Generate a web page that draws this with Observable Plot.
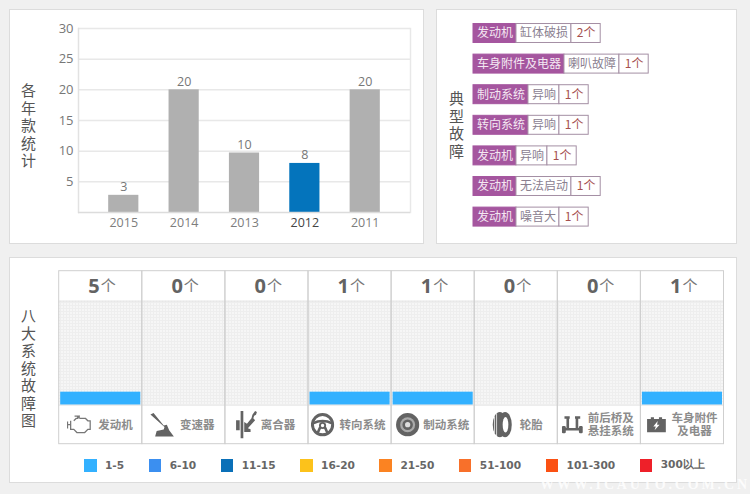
<!DOCTYPE html>
<html><head><meta charset="utf-8">
<script src="https://cdn.jsdelivr.net/npm/d3@7"></script>
<script src="https://cdn.jsdelivr.net/npm/@observablehq/plot@0.6"></script>
<style>
html,body{margin:0;padding:0;background:#f0f0f0;width:750px;height:494px;overflow:hidden;font-family:"Noto Sans CJK SC",sans-serif}
.panel{position:absolute;background:#fff;border:1px solid #dcdcdc;box-sizing:border-box}
.chart{position:absolute}
.chart svg{display:block;background:transparent}
.side{position:absolute;font-size:15px;line-height:16px;width:16px;color:#555;writing-mode:vertical-rl;text-orientation:upright;letter-spacing:2.5px}
#legend{position:absolute;left:84px;top:458px;display:flex;gap:24.5px;align-items:center;font:bold 10.6px "DejaVu Sans",sans-serif;color:#666}
#legend span.i{display:flex;align-items:center;gap:8.5px}
#legend i{display:block;width:12.5px;height:13px}
#mark{position:absolute;left:540px;top:477px;font:bold 14px "Liberation Serif",serif;letter-spacing:2.85px;color:#fff;opacity:.8;white-space:nowrap}
</style></head><body>
<div class="panel" style="left:9px;top:9px;width:415px;height:235px"></div>
<div class="panel" style="left:436px;top:9px;width:301px;height:235px"></div>
<div class="panel" style="left:9px;top:257px;width:728px;height:226px"></div>
<div class="side" style="left:20px;top:83px">各年款统计</div>
<div class="side" style="left:448px;top:91px">典型故障</div>
<div class="side" style="left:20px;top:308px">八大系统故障图</div>
<div class="chart" id="c1" style="left:9px;top:9px"></div>
<div class="chart" id="c2" style="left:436px;top:9px"></div>
<div class="chart" id="c3" style="left:9px;top:257px"></div>
<div id="legend"></div>
<div id="mark">WWW.ICAUTO.COM.CN</div>
<script>
// ---- yearly chart
const years = ["2015","2014","2013","2012","2011"];
const yearBars = [2.8,20,9.7,8,20];
const yearLabels = [3,20,10,8,20];
const highlightYear = "2012";
// ---- typical faults
const faultSystems = ["发动机","车身附件及电器","制动系统","转向系统","发动机","发动机","发动机"];
const faultNames = ["缸体破损","喇叭故障","异响","异响","异响","无法启动","噪音大"];
const faultCounts = [2,1,1,1,1,1,1];
// ---- eight systems
const systems = ["发动机","变速器","离合器","转向系统","制动系统","轮胎","前后桥及\n悬挂系统","车身附件\n及电器"];
const systemCounts = [5,0,0,1,1,0,0,1];
const binLabels = ["1-5","6-10","11-15","16-20","21-50","51-100","101-300","300以上"];
const binUpper = [5,10,15,20,50,100,300,Infinity];
const binColors = ["#33b1ff","#3b8ff0","#0a70b8","#fcc21b","#fb8322","#f8702a","#fb5113","#ee2029"];

const CJK = '"Noto Sans CJK SC",sans-serif', LATIN = '"Open Sans",sans-serif';

// ---- chart 1
const yearRows = years.map((y,i)=>({year:y,bar:yearBars[i],label:yearLabels[i]}));
document.getElementById("c1").append(Plot.plot({
  width:415,height:235,marginLeft:69,marginRight:14,marginTop:19,marginBottom:32,
  style:{background:"transparent",fontFamily:LATIN,fontSize:"12.5px"},
  x:{domain:years,paddingInner:.5,paddingOuter:.5,round:false,label:null},
  y:{domain:[0,30],label:null},
  marks:[
    Plot.ruleY([5,10,15,20,25,30],{stroke:"#e8e8e8",strokeWidth:1.5}),
    Plot.frame({anchor:"left",stroke:"#e2e2e2",strokeWidth:1.5}),
    Plot.frame({anchor:"right",stroke:"#e8e8e8",strokeWidth:1.5}),
    Plot.barY(yearRows,{x:"year",y:"bar",fill:d=>d.year===highlightYear?"#0474bc":"#b0b0b0"}),
    Plot.ruleY([0],{stroke:"#dcdcdc",strokeWidth:1.5}),
    Plot.text(yearRows,{x:"year",y:"bar",text:"label",dy:-8,fill:"#777",fontSize:12.5}),
    Plot.axisY({ticks:[5,10,15,20,25,30],tickSize:0,tickPadding:5,color:"#777",fontSize:13,label:null}),
    Plot.axisX({tickSize:0,tickPadding:6,fill:d=>d===highlightYear?"#444":"#7d7d7d",fontSize:12.5,label:null})
  ]
}));

// ---- chart 2 : one row of three joined boxes per fault; x is measured in character widths
const boxPad = .58, countWidth = 2.44;
const faultBoxes = faultSystems.flatMap((s,i)=>{
  const a = s.length+boxPad, b = a+faultNames[i].length+boxPad, c = b+countWidth;
  return [
    {row:i,part:"sys",x1:0,x2:a,text:s},
    {row:i,part:"name",x1:a,x2:b,text:faultNames[i]},
    {row:i,part:"count",x1:b,x2:c,text:faultCounts[i]+"个"}
  ];
});
document.getElementById("c2").append(Plot.plot({
  width:301,height:235,marginLeft:37,marginRight:24,marginTop:8.7,marginBottom:12.1,
  style:{background:"transparent",fontFamily:CJK},
  x:{domain:[0,20],axis:null},
  y:{domain:faultSystems.map((_,i)=>i),paddingInner:.38,paddingOuter:.19,round:false,axis:null},
  marks:[
    Plot.barX(faultBoxes,{x1:"x1",x2:"x2",y:"row",fill:d=>d.part==="sys"?"#a5569f":"#fff",stroke:d=>d.part==="sys"?"#a5569f":"#a48fa4",strokeWidth:1}),
    Plot.text(faultBoxes,{x:d=>(d.x1+d.x2)/2,y:"row",text:"text",fontSize:12,
      fill:d=>d.part==="sys"?"#f4e8f2":d.part==="name"?"#8a8090":"#a5504f"})
  ]
}));

// ---- chart 3
const svgUri = s=>"data:image/svg+xml;utf8,"+encodeURIComponent(`<svg xmlns="http://www.w3.org/2000/svg" viewBox="0 0 32 32">${s}</svg>`);
const iconColor="#636363";
const icons = [
  `<g fill="none" stroke="#777" stroke-width="1.6"><path d="M1 12v9M1 16h4M5 11v11h4l4 4h10l4-4h3V11h-3l-3-3H17l-3-3h-4M12 5h5M14 5v3M9 11l3-3h3"/></g>`,
  `<path fill="${iconColor}" d="M1 3l4-2 13 16 4-1 3 7 6 8H7l2-7 9-2 1-3z"/>`,
  `<path fill="${iconColor}" d="M9 1h3v30H9zM4 11h4v11H4zM13 13l3 2 5-6 1-4 3-4 2 1-1 3-2 1-1 3 2 2-8 9 3 1v3h-7z"/>`,
  `<g fill="none" stroke="${iconColor}"><circle cx="16" cy="16" r="13.5" stroke-width="4"/><path d="M4 14c7-4 17-4 24 0M13 19l-4 9M19 19l4 9" stroke-width="3.5"/><circle cx="16" cy="17" r="3.5" stroke-width="2.5"/></g>`,
  `<circle cx="16" cy="16" r="15.5" fill="${iconColor}"/><circle cx="16" cy="16" r="10" fill="#aaa"/><circle cx="16" cy="16" r="7" fill="${iconColor}"/><circle cx="16" cy="16" r="3.5" fill="#ddd"/>`,
  `<ellipse cx="13" cy="16" rx="8.7" ry="15.5" fill="${iconColor}"/><ellipse cx="19.5" cy="16" rx="8.2" ry="15.5" fill="${iconColor}"/><ellipse cx="20" cy="16" rx="3.5" ry="9.5" fill="#fff"/><path d="M9 2v28M6.5 6v20" stroke="#fff" stroke-width=".9"/>`,
  `<g fill="none" stroke="${iconColor}" stroke-width="4"><path d="M2 23h28M9 23V6M23 23V6M4 5h8M20 5h8"/></g><rect x="0" y="18" width="6" height="11" rx="2" fill="${iconColor}"/><rect x="26" y="18" width="6" height="11" rx="2" fill="${iconColor}"/>`,
  `<path fill="${iconColor}" d="M1 7h6V4h5v3h8V4h5v3h6v21H1z"/><path fill="#fff" d="M18 10l-7 9h4l-2 6 8-9h-4z"/>`
].map(svgUri);
const iconSize = [25,25,29,24,24,26,21,20];
const iconDx = [-21.5,-21.7,-20,-27.5,-25.5,-14,-27,-26];
const labelDx = [14.7,13.5,11,12.5,13,15,11.5,12];
const level = n => n<=0 ? 0 : binUpper.findIndex(u=>n<=u)+1;
const color = n => binColors[level(n)-1];
const sysRows = systems.map((s,i)=>({sys:s,count:systemCounts[i],level:level(systemCounts[i]),icon:icons[i]}));
const levels = binLabels.length, iconRow = -3, headRow = levels+2.3;
const texture = () => {
  const ns="http://www.w3.org/2000/svg";
  const defs=document.createElementNS(ns,"defs");
  defs.innerHTML=`<pattern id="dots" width="3" height="3" patternUnits="userSpaceOnUse"><rect width="3" height="3" fill="#f6f6f6"/><rect width="3" height="1" fill="#eeeeee"/><rect width="1" height="3" fill="#eeeeee"/></pattern>`;
  return defs;
};
document.getElementById("c3").append(Plot.plot({
  width:728,height:226,marginLeft:49.7,marginRight:13.5,marginTop:13.7,marginBottom:39.3,
  style:{background:"transparent",fontFamily:CJK},
  x:{domain:systems,padding:0,round:false,axis:null},
  y:{domain:[iconRow,headRow],axis:null},
  marks:[
    texture,
    Plot.barY(sysRows,{x:"sys",y1:0,y2:levels,fill:"url(#dots)"}),
    Plot.barY(sysRows.filter(d=>d.level>0),{x:"sys",y1:0,y2:"level",fill:d=>color(d.count),insetLeft:1.5,insetRight:1.5}),
    Plot.ruleY([0,levels],{stroke:"#e4e4e4"}),
    Plot.barY(sysRows,{x:"sys",y1:iconRow,y2:headRow,fill:"none",stroke:"#cfcfcf"}),
    Plot.text(sysRows,{x:"sys",y:levels+1.15,text:"count",textAnchor:"end",dx:-1,fontFamily:LATIN,fontWeight:"bold",fontSize:20,fill:"#636363"}),
    Plot.text(sysRows,{x:"sys",y:levels+1.15,text:()=>"个",textAnchor:"start",dx:0,fontSize:15,fill:"#777"}),
    ...sysRows.map((d,i)=>Plot.image([d],{x:"sys",y:iconRow/2,src:"icon",width:iconSize[i],height:iconSize[i],dx:iconDx[i]})),
    ...sysRows.map((d,i)=>Plot.text([d],{x:"sys",y:iconRow/2,text:"sys",dx:labelDx[i],fontSize:11.5,fontWeight:"bold",lineHeight:1.08,fill:"#8c8c8c"}))
  ]
}));

// ---- legend
const lg=d3.select("#legend").selectAll("span").data(binLabels).join("span").attr("class","i");
lg.append("i").style("background",(d,i)=>binColors[i]);
lg.append("b").style("font-weight","bold").text(d=>d);
</script>
</body></html>
